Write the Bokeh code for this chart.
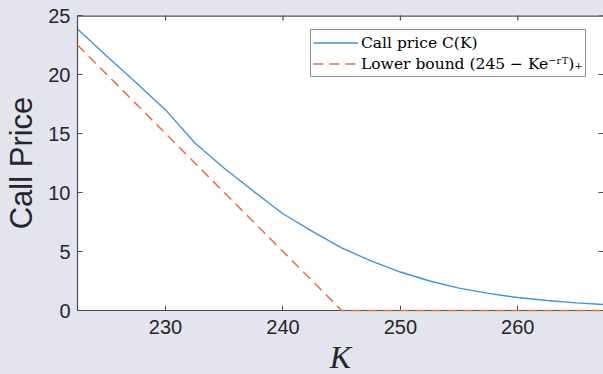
import math
from bokeh.plotting import figure
from bokeh.models import (Range1d, LinearAxis, FixedTicker, Legend, LegendItem,
                          GlobalInlineStyleSheet)
from bokeh.embed import file_html
from bokeh.resources import INLINE

# data
strikes = [222.5, 225, 227.5, 230, 232.5, 235, 237.5, 240, 242.5, 245, 247.5,
           250, 252.5, 255, 257.5, 260, 262.5, 265, 267.5]
call_price = [23.85, 21.55, 19.3, 17.0, 14.2, 12.05, 10.1, 8.2, 6.7, 5.3, 4.2,
              3.26, 2.5, 1.9, 1.45, 1.1, 0.85, 0.65, 0.5]
bound_k = [222.5, 245, 267.5]
lower_bound = [22.5, 0.0, 0.0]
x_ticks = [230, 240, 250, 260]
y_ticks = [0, 5, 10, 15, 20, 25]
x_lo, x_hi = 222.5, 267.3
y_lo, y_hi = 0, 25

BG = "#e4e4ef"
AX = "#4d4d4d"
TXT = "#262626"

p = figure(frame_width=526, frame_height=295, output_backend="svg",
           toolbar_location=None,
           x_range=Range1d(x_lo, x_hi), y_range=Range1d(y_lo, y_hi),
           x_axis_location=None, y_axis_location=None,
           min_border_left=77, min_border_right=0, min_border_top=15,
           min_border_bottom=64)
p.background_fill_color = "white"
p.border_fill_color = BG
p.outline_line_color = None
p.grid.visible = False
p.stylesheets = [GlobalInlineStyleSheet(
    css="html, body { background: %s; overflow: hidden; }" % BG)]

def style_axis(ax):
    ax.axis_line_color = AX
    ax.axis_line_width = 1.2
    ax.major_tick_line_color = AX
    ax.major_tick_in = 5
    ax.major_tick_out = 0
    ax.minor_tick_line_color = None
    ax.major_label_text_color = TXT
    ax.major_label_text_font = "Liberation Sans"
    ax.major_label_text_font_size = "20px"

xa = LinearAxis(ticker=FixedTicker(ticks=x_ticks))
style_axis(xa)
xa.major_label_standoff = 9
xa.axis_label = "K"
xa.axis_label_text_font = "Liberation Serif"
xa.axis_label_text_font_style = "italic"
xa.axis_label_text_font_size = "32px"
xa.axis_label_text_color = TXT
xa.axis_label_standoff = 2
p.add_layout(xa, "below")

ya = LinearAxis(ticker=FixedTicker(ticks=y_ticks))
style_axis(ya)
ya.major_label_standoff = 7
ya.axis_label = "Call Price"
ya.axis_label_text_font = "Liberation Sans"
ya.axis_label_text_font_style = "normal"
ya.axis_label_text_font_size = "31px"
ya.axis_label_text_color = TXT
ya.axis_label_standoff = 6
p.add_layout(ya, "left")

# box: top border and inward ticks on top / right edges
p.segment(x0=[x_lo], y0=[y_hi], x1=[x_hi], y1=[y_hi], line_color=AX, line_width=2.4)
p.scatter(x_ticks, [y_hi] * len(x_ticks), marker="dash", angle=math.pi / 2,
          size=10, line_color=AX, line_width=1.2)
p.scatter([x_hi] * len(y_ticks), y_ticks, marker="dash", size=10,
          line_color=AX, line_width=1.2)

r1 = p.line(strikes, call_price, line_color="#3f95d2", line_width=1.4)
r2 = p.line(bound_k, lower_bound, line_color="#e0713f", line_width=1.5,
            line_dash="10 6", level="overlay")

legend = Legend(items=[LegendItem(label="Call price C(K)", renderers=[r1]),
                       LegendItem(label="Lower bound (245 \u2212 Ke\u207b\u02b3\u1d40)\u208a",
                                  renderers=[r2])],
                location=(233, 233))
legend.label_text_font = "DejaVu Serif"
legend.label_text_font_size = "15.5px"
legend.label_text_color = "black"
legend.glyph_width = 45
legend.glyph_height = 21
legend.label_height = 21
legend.label_standoff = 3
legend.spacing = 0
legend.padding = 2
legend.margin = 0
legend.border_line_color = "#262626"
legend.border_line_width = 1
legend.background_fill_color = "white"
legend.background_fill_alpha = 1
p.add_layout(legend, "center")

open("out.html", "w").write(file_html(p, INLINE))
